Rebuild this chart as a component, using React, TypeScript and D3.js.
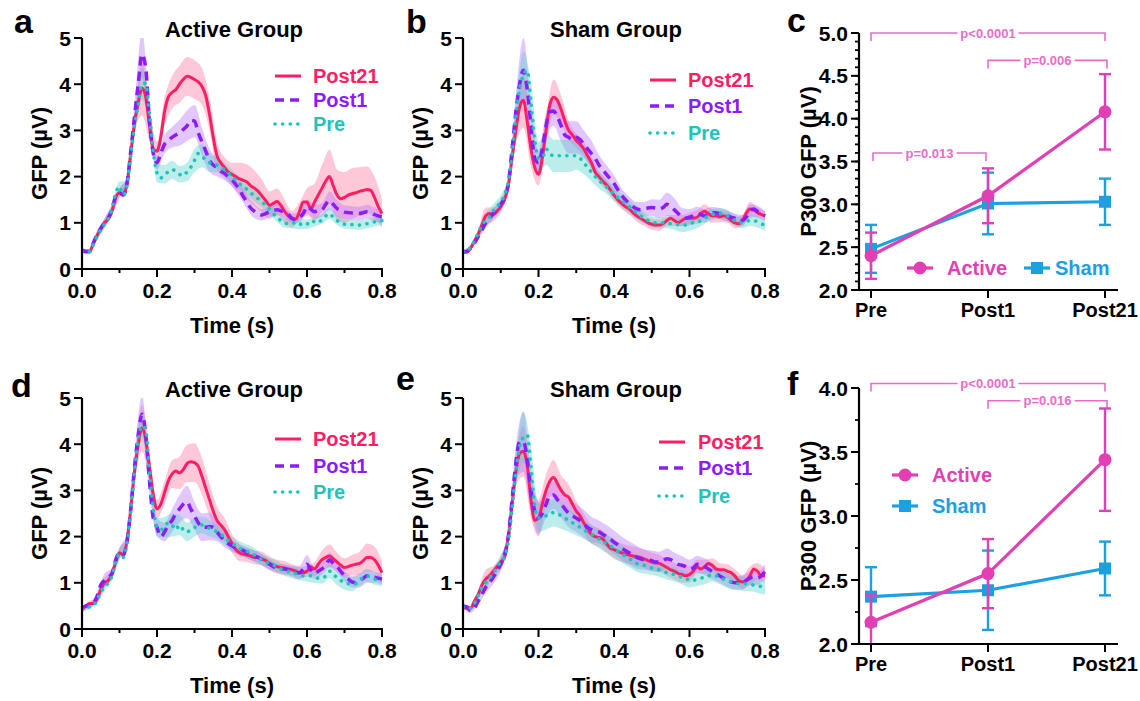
import React from "react";
import * as d3 from "d3";

const FONT = "'Liberation Sans', Arial, Helvetica, sans-serif";

// sample grids (s)
const TIME = d3.range(81).map((i) => i / 100);
const BAND_TIME = d3.range(41).map((i) => i / 50);

const SERIES = ["Post21", "Post1", "Pre"];
const SERIES_COLORS = ["#ff1e64", "#8c1cff", "#1cc4bc"];
const BAND_COLORS = ["#ff6f9c", "#b46cff", "#4fd0c8"];

// ---------- Panel a: Active group ----------
const A_POST21 = [
  0.40, 0.38, 0.38, 0.55, 0.72, 0.88, 1.00, 1.08, 1.25, 1.55,
  1.65, 1.60, 1.85, 2.50, 3.15, 3.60, 3.92, 3.72, 3.10, 2.60,
  2.55, 2.85, 3.40, 3.72, 3.82, 3.88, 4.00, 4.10, 4.17, 4.15,
  4.10, 4.05, 3.95, 3.75, 3.35, 2.85, 2.45, 2.30, 2.20, 2.10,
  2.05, 2.00, 1.95, 1.92, 1.88, 1.80, 1.75, 1.68, 1.58, 1.48,
  1.38, 1.42, 1.46, 1.38, 1.25, 1.15, 1.08, 1.08, 1.25, 1.45,
  1.45, 1.30, 1.45, 1.60, 1.75, 1.90, 2.00, 1.80, 1.60, 1.52,
  1.55, 1.60, 1.63, 1.65, 1.68, 1.70, 1.72, 1.70, 1.55, 1.35,
  1.20,
];
const A_POST1 = [
  0.40, 0.38, 0.38, 0.56, 0.74, 0.88, 1.00, 1.10, 1.30, 1.58,
  1.65, 1.60, 1.85, 2.55, 3.30, 4.00, 4.65, 4.35, 3.20, 2.50,
  2.30, 2.50, 2.70, 2.78, 2.85, 2.90, 2.95, 3.02, 3.10, 3.22,
  3.20, 2.95, 2.75, 2.55, 2.35, 2.25, 2.20, 2.12, 2.07, 2.00,
  1.93, 1.83, 1.72, 1.57, 1.45, 1.32, 1.25, 1.20, 1.17, 1.20,
  1.24, 1.27, 1.28, 1.26, 1.22, 1.18, 1.10, 1.06, 1.12, 1.20,
  1.35, 1.30, 1.24, 1.26, 1.28, 1.40, 1.48, 1.40, 1.31, 1.27,
  1.23, 1.22, 1.21, 1.20, 1.20, 1.22, 1.24, 1.22, 1.18, 1.15,
  1.13,
];
const A_PRE = [
  0.38, 0.36, 0.38, 0.52, 0.70, 0.85, 0.97, 1.08, 1.30, 1.65,
  1.78, 1.60, 1.80, 2.45, 3.10, 3.55, 4.00, 4.02, 3.35, 2.55,
  2.08, 1.97, 2.05, 2.10, 2.15, 2.12, 2.05, 2.02, 2.10, 2.20,
  2.35, 2.50, 2.45, 2.35, 2.30, 2.28, 2.25, 2.20, 2.15, 2.08,
  2.00, 1.93, 1.85, 1.78, 1.72, 1.65, 1.58, 1.52, 1.45, 1.38,
  1.30, 1.20, 1.12, 1.05, 1.00, 0.98, 0.98, 1.02, 0.98, 0.95,
  0.97, 1.05, 1.02, 1.00, 1.08, 1.15, 1.20, 1.12, 1.05, 1.00,
  0.97, 0.95, 0.96, 0.95, 0.95, 0.97, 0.98, 1.00, 1.02, 1.04,
  1.05,
];
const A_POST21_SEM = [
  0.05, 0.05, 0.08, 0.10, 0.10, 0.10, 0.12, 0.20, 0.60, 0.35,
  0.20, 0.30, 0.35, 0.40, 0.42, 0.42, 0.40, 0.35, 0.30, 0.22,
  0.25, 0.35, 0.38, 0.38, 0.35, 0.30, 0.28, 0.25, 0.18, 0.20,
  0.30, 0.40, 0.50, 0.58, 0.55, 0.55, 0.55, 0.52, 0.50, 0.45,
  0.30,
];
const A_POST1_SEM = [
  0.05, 0.05, 0.08, 0.10, 0.10, 0.10, 0.12, 0.25, 0.50, 0.30,
  0.15, 0.20, 0.22, 0.28, 0.33, 0.35, 0.30, 0.25, 0.20, 0.15,
  0.15, 0.15, 0.15, 0.15, 0.12, 0.12, 0.12, 0.12, 0.10, 0.12,
  0.15, 0.15, 0.15, 0.20, 0.18, 0.15, 0.15, 0.15, 0.15, 0.15,
  0.15,
];
const A_PRE_SEM = [
  0.05, 0.05, 0.08, 0.08, 0.10, 0.12, 0.10, 0.20, 0.35, 0.25,
  0.20, 0.20, 0.20, 0.18, 0.20, 0.25, 0.25, 0.20, 0.15, 0.15,
  0.15, 0.12, 0.12, 0.12, 0.12, 0.12, 0.10, 0.10, 0.10, 0.12,
  0.10, 0.10, 0.10, 0.12, 0.10, 0.10, 0.10, 0.10, 0.10, 0.10,
  0.10,
];

// ---------- Panel b: Sham group ----------
const B_POST21 = [
  0.37, 0.37, 0.45, 0.60, 0.75, 0.95, 1.15, 1.20, 1.18, 1.25,
  1.35, 1.50, 1.80, 2.40, 3.00, 3.50, 3.65, 3.20, 2.60, 2.20,
  2.05, 2.40, 3.00, 3.55, 3.72, 3.65, 3.45, 3.20, 3.00, 2.90,
  2.78, 2.70, 2.60, 2.45, 2.30, 2.10, 2.00, 1.90, 1.82, 1.72,
  1.60, 1.50, 1.42, 1.35, 1.30, 1.22, 1.15, 1.10, 1.05, 1.00,
  0.97, 0.95, 0.95, 0.98, 1.05, 1.10, 1.05, 1.00, 1.05, 1.10,
  1.10, 1.10, 1.12, 1.20, 1.25, 1.20, 1.15, 1.15, 1.13, 1.15,
  1.12, 1.05, 1.00, 0.98, 1.05, 1.20, 1.30, 1.28, 1.22, 1.18,
  1.15,
];
const B_POST1 = [
  0.37, 0.38, 0.45, 0.55, 0.70, 0.85, 1.00, 1.10, 1.20, 1.30,
  1.40, 1.55, 1.85, 2.60, 3.40, 4.00, 4.30, 3.90, 3.10, 2.40,
  2.30, 2.60, 3.10, 3.40, 3.42, 3.30, 3.10, 2.90, 2.85, 2.80,
  2.85, 2.80, 2.70, 2.60, 2.50, 2.40, 2.25, 2.15, 2.05, 1.95,
  1.85, 1.72, 1.60, 1.50, 1.42, 1.35, 1.30, 1.28, 1.30, 1.32,
  1.33, 1.32, 1.30, 1.33, 1.40, 1.35, 1.28, 1.20, 1.12, 1.10,
  1.12, 1.15, 1.20, 1.18, 1.15, 1.20, 1.22, 1.22, 1.20, 1.20,
  1.15, 1.12, 1.10, 1.05, 1.05, 1.12, 1.25, 1.30, 1.25, 1.20,
  1.15,
];
const B_PRE = [
  0.37, 0.38, 0.47, 0.60, 0.78, 0.95, 1.05, 1.12, 1.25, 1.35,
  1.45, 1.60, 1.90, 2.50, 3.30, 3.90, 4.20, 4.30, 3.60, 2.80,
  2.40, 2.40, 2.60, 2.50, 2.45, 2.45, 2.45, 2.45, 2.45, 2.45,
  2.45, 2.40, 2.30, 2.20, 2.10, 2.00, 1.92, 1.85, 1.78, 1.70,
  1.62, 1.55, 1.48, 1.42, 1.35, 1.28, 1.22, 1.15, 1.10, 1.05,
  1.02, 1.00, 1.00, 1.00, 1.00, 0.98, 0.97, 0.96, 0.95, 0.95,
  0.98, 1.00, 1.00, 1.05, 1.10, 1.15, 1.18, 1.20, 1.20, 1.18,
  1.15, 1.10, 1.05, 1.00, 1.00, 1.02, 1.05, 1.05, 1.02, 0.98,
  0.95,
];
const B_POST21_SEM = [
  0.05, 0.05, 0.08, 0.18, 0.15, 0.12, 0.12, 0.30, 0.60, 0.40,
  0.25, 0.30, 0.38, 0.30, 0.20, 0.15, 0.15, 0.15, 0.12, 0.12,
  0.12, 0.12, 0.12, 0.12, 0.12, 0.12, 0.12, 0.12, 0.12, 0.12,
  0.12, 0.15, 0.15, 0.15, 0.12, 0.12, 0.12, 0.12, 0.15, 0.12,
  0.10,
];
const B_POST1_SEM = [
  0.05, 0.05, 0.08, 0.12, 0.12, 0.12, 0.12, 0.35, 0.70, 0.45,
  0.25, 0.30, 0.32, 0.35, 0.35, 0.35, 0.30, 0.28, 0.22, 0.20,
  0.18, 0.15, 0.15, 0.15, 0.15, 0.18, 0.20, 0.25, 0.25, 0.20,
  0.18, 0.15, 0.15, 0.12, 0.12, 0.12, 0.10, 0.12, 0.15, 0.12,
  0.10,
];
const B_PRE_SEM = [
  0.05, 0.05, 0.08, 0.15, 0.15, 0.15, 0.12, 0.30, 0.50, 0.45,
  0.35, 0.35, 0.35, 0.35, 0.35, 0.30, 0.25, 0.20, 0.18, 0.15,
  0.15, 0.15, 0.15, 0.15, 0.12, 0.12, 0.12, 0.12, 0.12, 0.15,
  0.15, 0.12, 0.12, 0.12, 0.12, 0.12, 0.12, 0.12, 0.12, 0.12,
  0.12,
];

// ---------- Panel d: Active group ----------
const D_POST21 = [
  0.42, 0.50, 0.55, 0.55, 0.65, 0.85, 1.00, 1.05, 1.20, 1.45,
  1.65, 1.60, 1.90, 2.60, 3.40, 4.00, 4.35, 4.10, 3.50, 2.90,
  2.60, 2.70, 2.95, 3.20, 3.35, 3.42, 3.38, 3.45, 3.58, 3.62,
  3.60, 3.52, 3.30, 3.05, 2.80, 2.55, 2.35, 2.25, 2.15, 2.00,
  1.85, 1.72, 1.65, 1.62, 1.60, 1.58, 1.55, 1.55, 1.52, 1.48,
  1.42, 1.38, 1.35, 1.33, 1.32, 1.30, 1.28, 1.25, 1.22, 1.22,
  1.25, 1.35, 1.30, 1.40, 1.50, 1.55, 1.58, 1.52, 1.45, 1.38,
  1.33, 1.35, 1.38, 1.40, 1.42, 1.48, 1.55, 1.55, 1.50, 1.38,
  1.22,
];
const D_POST1 = [
  0.45, 0.50, 0.50, 0.55, 0.70, 0.95, 1.05, 1.12, 1.20, 1.50,
  1.65, 1.60, 1.90, 2.60, 3.50, 4.20, 4.65, 4.20, 3.20, 2.40,
  2.20, 2.00, 2.10, 2.25, 2.35, 2.50, 2.60, 2.70, 2.75, 2.60,
  2.45, 2.30, 2.20, 2.20, 2.22, 2.20, 2.10, 2.00, 1.92, 1.85,
  1.80, 1.75, 1.72, 1.70, 1.65, 1.60, 1.58, 1.55, 1.50, 1.45,
  1.40, 1.35, 1.32, 1.30, 1.30, 1.28, 1.25, 1.22, 1.22, 1.30,
  1.40, 1.28, 1.20, 1.25, 1.30, 1.38, 1.50, 1.42, 1.35, 1.25,
  1.15, 1.08, 1.02, 1.00, 1.05, 1.10, 1.15, 1.15, 1.12, 1.10,
  1.08,
];
const D_PRE = [
  0.42, 0.45, 0.48, 0.50, 0.62, 0.80, 0.90, 1.00, 1.15, 1.45,
  1.62, 1.55, 1.85, 2.55, 3.40, 4.10, 4.40, 4.30, 3.40, 2.60,
  2.20, 2.15, 2.20, 2.30, 2.25, 2.15, 2.25, 2.15, 2.10, 2.15,
  2.20, 2.20, 2.25, 2.22, 2.18, 2.15, 2.10, 2.05, 1.98, 1.92,
  1.85, 1.80, 1.75, 1.70, 1.68, 1.65, 1.60, 1.55, 1.50, 1.45,
  1.42, 1.38, 1.35, 1.30, 1.27, 1.25, 1.22, 1.20, 1.18, 1.15,
  1.15, 1.15, 1.12, 1.10, 1.10, 1.15, 1.25, 1.20, 1.10, 1.05,
  1.00, 0.98, 0.97, 0.98, 1.05, 1.12, 1.15, 1.12, 1.08, 1.05,
  1.05,
];
const D_POST21_SEM = [
  0.05, 0.05, 0.08, 0.10, 0.10, 0.10, 0.12, 0.25, 0.50, 0.35,
  0.20, 0.25, 0.30, 0.35, 0.40, 0.42, 0.40, 0.35, 0.30, 0.25,
  0.20, 0.18, 0.15, 0.15, 0.15, 0.15, 0.15, 0.15, 0.12, 0.12,
  0.12, 0.15, 0.20, 0.25, 0.20, 0.20, 0.22, 0.25, 0.30, 0.28,
  0.25,
];
const D_POST1_SEM = [
  0.05, 0.05, 0.10, 0.15, 0.12, 0.12, 0.15, 0.30, 0.40, 0.30,
  0.20, 0.20, 0.25, 0.30, 0.35, 0.30, 0.30, 0.30, 0.20, 0.15,
  0.12, 0.12, 0.12, 0.12, 0.12, 0.12, 0.10, 0.10, 0.12, 0.15,
  0.20, 0.12, 0.12, 0.15, 0.12, 0.12, 0.12, 0.15, 0.15, 0.12,
  0.12,
];
const D_PRE_SEM = [
  0.05, 0.05, 0.08, 0.08, 0.10, 0.12, 0.10, 0.20, 0.30, 0.25,
  0.20, 0.22, 0.25, 0.22, 0.20, 0.20, 0.18, 0.18, 0.15, 0.15,
  0.15, 0.15, 0.15, 0.15, 0.12, 0.12, 0.12, 0.12, 0.12, 0.12,
  0.12, 0.12, 0.12, 0.15, 0.15, 0.15, 0.15, 0.12, 0.12, 0.12,
  0.12,
];

// ---------- Panel e: Sham group ----------
const E_POST21 = [
  0.48, 0.45, 0.45, 0.60, 0.75, 0.95, 1.08, 1.15, 1.25, 1.35,
  1.45, 1.55, 2.00, 2.70, 3.40, 3.80, 3.85, 3.55, 2.80, 2.35,
  2.40, 2.70, 3.00, 3.20, 3.28, 3.15, 3.00, 2.90, 2.85, 2.70,
  2.55, 2.45, 2.30, 2.15, 2.05, 2.00, 1.98, 1.95, 1.85, 1.75,
  1.72, 1.68, 1.65, 1.62, 1.60, 1.58, 1.57, 1.55, 1.52, 1.48,
  1.45, 1.43, 1.42, 1.38, 1.33, 1.28, 1.25, 1.20, 1.18, 1.15,
  1.18, 1.25, 1.35, 1.30, 1.35, 1.42, 1.38, 1.30, 1.28, 1.28,
  1.25, 1.22, 1.15, 1.05, 1.02, 1.05, 1.15, 1.30, 1.25, 1.15,
  1.15,
];
const E_POST1 = [
  0.50, 0.48, 0.40, 0.45, 0.60, 0.75, 0.90, 1.00, 1.12, 1.25,
  1.40, 1.60, 2.00, 2.80, 3.60, 4.05, 4.05, 3.70, 3.00, 2.55,
  2.40, 2.50, 2.70, 2.88, 2.90, 2.80, 2.70, 2.60, 2.50, 2.45,
  2.40, 2.35, 2.28, 2.20, 2.15, 2.12, 2.10, 2.05, 2.00, 1.95,
  1.88, 1.82, 1.75, 1.70, 1.65, 1.60, 1.55, 1.52, 1.50, 1.50,
  1.48, 1.45, 1.45, 1.48, 1.52, 1.50, 1.45, 1.40, 1.38, 1.35,
  1.30, 1.32, 1.40, 1.38, 1.35, 1.30, 1.25, 1.20, 1.15, 1.10,
  1.05, 1.02, 1.00, 1.00, 1.00, 1.05, 1.10, 1.12, 1.10, 1.15,
  1.25,
];
const E_PRE = [
  0.48, 0.45, 0.45, 0.55, 0.72, 0.90, 1.00, 1.10, 1.20, 1.35,
  1.45, 1.55, 1.90, 2.60, 3.40, 3.95, 4.15, 4.20, 3.50, 2.65,
  2.40, 2.40, 2.45, 2.50, 2.52, 2.50, 2.45, 2.40, 2.35, 2.30,
  2.25, 2.20, 2.15, 2.10, 2.05, 2.00, 1.95, 1.90, 1.85, 1.80,
  1.75, 1.68, 1.62, 1.58, 1.52, 1.48, 1.42, 1.40, 1.38, 1.35,
  1.32, 1.30, 1.28, 1.25, 1.22, 1.20, 1.18, 1.15, 1.12, 1.10,
  1.05, 1.05, 1.08, 1.10, 1.12, 1.15, 1.18, 1.15, 1.12, 1.08,
  1.05, 1.02, 1.00, 0.98, 0.98, 0.98, 0.97, 0.95, 0.93, 0.92,
  0.90,
];
const E_POST21_SEM = [
  0.05, 0.05, 0.08, 0.20, 0.12, 0.12, 0.15, 0.30, 0.55, 0.40,
  0.40, 0.35, 0.38, 0.32, 0.28, 0.22, 0.20, 0.20, 0.20, 0.20,
  0.20, 0.20, 0.20, 0.20, 0.20, 0.20, 0.18, 0.18, 0.18, 0.18,
  0.18, 0.15, 0.15, 0.15, 0.15, 0.15, 0.15, 0.15, 0.20, 0.18,
  0.15,
];
const E_POST1_SEM = [
  0.05, 0.05, 0.08, 0.12, 0.15, 0.15, 0.15, 0.35, 0.65, 0.45,
  0.35, 0.30, 0.30, 0.30, 0.30, 0.30, 0.30, 0.28, 0.25, 0.25,
  0.25, 0.25, 0.25, 0.25, 0.22, 0.22, 0.22, 0.22, 0.20, 0.20,
  0.20, 0.18, 0.18, 0.18, 0.15, 0.15, 0.15, 0.15, 0.15, 0.15,
  0.15,
];
const E_PRE_SEM = [
  0.05, 0.05, 0.08, 0.12, 0.12, 0.15, 0.12, 0.30, 0.55, 0.45,
  0.30, 0.30, 0.30, 0.28, 0.25, 0.22, 0.20, 0.20, 0.20, 0.20,
  0.20, 0.18, 0.18, 0.18, 0.18, 0.15, 0.15, 0.15, 0.15, 0.15,
  0.15, 0.15, 0.15, 0.15, 0.15, 0.15, 0.15, 0.15, 0.15, 0.15,
  0.15,
];

// ---------- Panels c and f: P300 GFP ----------
const CATS = ["Pre", "Post1", "Post21"];
const GROUPS = ["Active", "Sham"];
const GROUP_COLORS = ["#e23fb4", "#1ba0e2"];

const C_ACTIVE = [2.40, 3.10, 4.08];
const C_ACTIVE_ERR = [0.27, 0.32, 0.44];
const C_SHAM = [2.48, 3.01, 3.03];
const C_SHAM_ERR = [0.28, 0.36, 0.27];
const C_BRACKETS: [string, string, number, string][] = [
  ["Pre", "Post21", 5.0, "p<0.0001"],
  ["Post1", "Post21", 4.68, "p=0.006"],
  ["Pre", "Post1", 3.6, "p=0.013"],
];

const F_ACTIVE = [2.17, 2.55, 3.44];
const F_ACTIVE_ERR = [0.21, 0.27, 0.40];
const F_SHAM = [2.37, 2.42, 2.59];
const F_SHAM_ERR = [0.23, 0.31, 0.21];
const F_BRACKETS: [string, string, number, string][] = [
  ["Pre", "Post21", 4.035, "p<0.0001"],
  ["Post1", "Post21", 3.9, "p=0.016"],
];

const X_TICK_LABELS = ["0.0", "0.2", "0.4", "0.6", "0.8"];

type GfpCfg = {
  id: string;
  letter: string;
  letterX: number;
  letterY: number;
  left: number;
  right: number;
  top: number;
  bottom: number;
  title: string;
  means: number[][];
  sems: number[][];
  legendX: number;
  legendTextX: number;
  legendY: number[];
};

const GFP_PANELS: GfpCfg[] = [
  {
    id: "a", letter: "a", letterX: 14, letterY: 33,
    left: 82, right: 382, top: 38, bottom: 269, title: "Active Group",
    means: [A_POST21, A_POST1, A_PRE], sems: [A_POST21_SEM, A_POST1_SEM, A_PRE_SEM],
    legendX: 275, legendTextX: 313, legendY: [76, 100, 124],
  },
  {
    id: "b", letter: "b", letterX: 406, letterY: 33,
    left: 463, right: 765, top: 38, bottom: 269, title: "Sham Group",
    means: [B_POST21, B_POST1, B_PRE], sems: [B_POST21_SEM, B_POST1_SEM, B_PRE_SEM],
    legendX: 650, legendTextX: 688, legendY: [80, 106, 133],
  },
  {
    id: "d", letter: "d", letterX: 11, letterY: 397,
    left: 82, right: 382, top: 398, bottom: 629, title: "Active Group",
    means: [D_POST21, D_POST1, D_PRE], sems: [D_POST21_SEM, D_POST1_SEM, D_PRE_SEM],
    legendX: 275, legendTextX: 313, legendY: [439, 466, 492],
  },
  {
    id: "e", letter: "e", letterX: 396, letterY: 390,
    left: 463, right: 765, top: 398, bottom: 629, title: "Sham Group",
    means: [E_POST21, E_POST1, E_PRE], sems: [E_POST21_SEM, E_POST1_SEM, E_PRE_SEM],
    legendX: 659, legendTextX: 698, legendY: [442, 468, 496],
  },
];

const DASH = ["none", "9 6", "0.1 7.5"];
const WIDTH = [3, 3.5, 3.6];
const CAP = ["butt", "butt", "round"];

function GfpPanel({ cfg }: { cfg: GfpCfg }) {
  const x = d3.scaleLinear().domain([0, 0.8]).range([cfg.left, cfg.right]);
  const y = d3.scaleLinear().domain([0, 5]).range([cfg.bottom, cfg.top]);
  const line = d3
    .line<number>()
    .x((_, i) => x(TIME[i]))
    .y((d) => y(d))
    .curve(d3.curveMonotoneX);
  const area = (mean: number[], sem: number[]) =>
    d3
      .area<number>()
      .x((_, i) => x(BAND_TIME[i]))
      .y0((s, i) => y(mean[i * 2] - s))
      .y1((s, i) => y(mean[i * 2] + s))
      .curve(d3.curveMonotoneX)(sem) || "";
  const xt = x.ticks(8);
  const yt = y.ticks(5);
  const clipId = "clip-" + cfg.id;
  const cx = (cfg.left + cfg.right) / 2;
  const cy = (cfg.top + cfg.bottom) / 2;
  return (
    <g>
      <defs>
        <clipPath id={clipId}>
          <rect x={cfg.left} y={cfg.top} width={cfg.right - cfg.left + 2} height={cfg.bottom - cfg.top} />
        </clipPath>
      </defs>
      <g clipPath={`url(#${clipId})`}>
        {cfg.means.map((m, k) => (
          <path key={"b" + k} d={area(m, cfg.sems[k])} fill={BAND_COLORS[k]} fillOpacity={0.38} stroke="none" />
        ))}
        {cfg.means.map((m, k) => (
          <path
            key={"l" + k}
            d={line(m) || ""}
            fill="none"
            stroke={SERIES_COLORS[k]}
            strokeWidth={WIDTH[k]}
            strokeDasharray={DASH[k]}
            strokeLinecap={CAP[k] as any}
            strokeLinejoin="round"
          />
        ))}
      </g>
      {/* axes */}
      <line x1={cfg.left} x2={cfg.left} y1={cfg.top} y2={cfg.bottom} stroke="#000" strokeWidth={2.2} />
      <line x1={cfg.left - 1} x2={cfg.right + 1} y1={cfg.bottom} y2={cfg.bottom} stroke="#000" strokeWidth={2.2} />
      {xt.map((t, i) => {
        const major = i % 2 === 0;
        return (
          <g key={"xt" + i}>
            <line x1={x(t)} x2={x(t)} y1={cfg.bottom} y2={cfg.bottom + (major ? 8 : 4)} stroke="#000" strokeWidth={2} />
            {major && (
              <text x={x(t)} y={cfg.bottom + 29} textAnchor="middle" fontSize={21} fontWeight="bold">
                {X_TICK_LABELS[i / 2]}
              </text>
            )}
          </g>
        );
      })}
      {yt.map((v) => (
        <g key={"yt" + v}>
          <line x1={cfg.left - 8} x2={cfg.left} y1={y(v)} y2={y(v)} stroke="#000" strokeWidth={2} />
          <text x={cfg.left - 11} y={y(v)} dy="0.36em" textAnchor="end" fontSize={21} fontWeight="bold">
            {String(v)}
          </text>
        </g>
      ))}
      <text x={cx} y={cfg.bottom + 64} textAnchor="middle" fontSize={22} fontWeight="bold">
        Time (s)
      </text>
      <text
        transform={`translate(${cfg.left - 43},${cy}) rotate(-90)`}
        dy="0.36em"
        textAnchor="middle"
        fontSize={22}
        fontWeight="bold"
      >
        GFP (µV)
      </text>
      <text x={cx + 2} y={cfg.top - 1} textAnchor="middle" fontSize={22} fontWeight="bold">
        {cfg.title}
      </text>
      <text x={cfg.letterX} y={cfg.letterY} fontSize={34} fontWeight="bold">
        {cfg.letter}
      </text>
      {SERIES.map((s, k) => (
        <g key={"lg" + k}>
          <line
            x1={cfg.legendX}
            x2={cfg.legendX + 26}
            y1={cfg.legendY[k]}
            y2={cfg.legendY[k]}
            stroke={SERIES_COLORS[k]}
            strokeWidth={WIDTH[k]}
            strokeDasharray={DASH[k]}
            strokeLinecap={CAP[k] as any}
          />
          <text x={cfg.legendTextX} y={cfg.legendY[k]} dy="0.36em" fontSize={20} fontWeight="bold" fill={SERIES_COLORS[k]}>
            {s}
          </text>
        </g>
      ))}
    </g>
  );
}

type P300Cfg = {
  letter: string;
  letterX: number;
  letterY: number;
  left: number;
  right: number;
  top: number;
  bottom: number;
  yMin: number;
  yMax: number;
  minorStep: number;
  active: number[];
  activeErr: number[];
  sham: number[];
  shamErr: number[];
  brackets: [string, string, number, string][];
  legend: { x: number; y: number; textX: number }[];
};

const P300_PANELS: P300Cfg[] = [
  {
    letter: "c", letterX: 787, letterY: 32,
    left: 859, right: 1118, top: 33, bottom: 290, yMin: 2, yMax: 5, minorStep: 0.1,
    active: C_ACTIVE, activeErr: C_ACTIVE_ERR, sham: C_SHAM, shamErr: C_SHAM_ERR,
    brackets: C_BRACKETS,
    legend: [
      { x: 907, y: 268, textX: 947 },
      { x: 1024, y: 268, textX: 1055 },
    ],
  },
  {
    letter: "f", letterX: 787, letterY: 395,
    left: 859, right: 1118, top: 388, bottom: 644, yMin: 2, yMax: 4, minorStep: 0.25,
    active: F_ACTIVE, activeErr: F_ACTIVE_ERR, sham: F_SHAM, shamErr: F_SHAM_ERR,
    brackets: F_BRACKETS,
    legend: [
      { x: 892, y: 475, textX: 932 },
      { x: 892, y: 506, textX: 932 },
    ],
  },
];

function P300Panel({ cfg }: { cfg: P300Cfg }) {
  const x = d3.scalePoint<string>().domain(CATS).range([cfg.left + 12, cfg.right - 13]);
  const y = d3.scaleLinear().domain([cfg.yMin, cfg.yMax]).range([cfg.bottom, cfg.top]);
  const major = d3.range(cfg.yMin, cfg.yMax + 0.001, 0.5);
  const minor = d3.range(cfg.yMin, cfg.yMax + 0.001, cfg.minorStep);
  const line = d3
    .line<number>()
    .x((_, i) => x(CATS[i]) as number)
    .y((d) => y(d));
  const groups = [
    { vals: cfg.sham, err: cfg.shamErr, color: GROUP_COLORS[1], shape: "square" },
    { vals: cfg.active, err: cfg.activeErr, color: GROUP_COLORS[0], shape: "circle" },
  ];
  const cy = (cfg.top + cfg.bottom) / 2;
  const bracketColor = "#ea6cc8";
  return (
    <g>
      {/* brackets */}
      {cfg.brackets.map(([a, b, v, label], i) => {
        const x1 = (x(a) as number) + (i === 2 ? 2 : 0);
        const x2 = (x(b) as number) + (i === 2 ? -2 : 0) + (i === 1 && a === "Post1" ? 2 : 0);
        const yy = y(v);
        const mid = (x1 + x2) / 2;
        const w = label.length * 6.6 + 8;
        return (
          <g key={"br" + i}>
            <path
              d={`M${x1},${yy + 8}V${yy}H${mid - w / 2}M${mid + w / 2},${yy}H${x2}V${yy + 8}`}
              fill="none"
              stroke={bracketColor}
              strokeWidth={1.6}
            />
            <text x={mid} y={yy} dy="0.36em" textAnchor="middle" fontSize={13} fontWeight="bold" fill={bracketColor}>
              {label}
            </text>
          </g>
        );
      })}
      {/* data */}
      {groups.map((g, gi) => (
        <g key={"g" + gi}>
          <path d={line(g.vals) || ""} fill="none" stroke={g.color} strokeWidth={3.2} />
          {g.vals.map((v, i) => {
            const px = x(CATS[i]) as number;
            const hi = y(Math.min(cfg.yMax, v + g.err[i]));
            const loV = v - g.err[i];
            const lo = y(Math.max(cfg.yMin, loV));
            return (
              <g key={"e" + i}>
                <line x1={px} x2={px} y1={hi} y2={lo} stroke={g.color} strokeWidth={2.4} />
                <line x1={px - 6} x2={px + 6} y1={hi} y2={hi} stroke={g.color} strokeWidth={2.4} />
                {loV >= cfg.yMin && <line x1={px - 6} x2={px + 6} y1={lo} y2={lo} stroke={g.color} strokeWidth={2.4} />}
                {g.shape === "circle" ? (
                  <circle cx={px} cy={y(v)} r={6.5} fill={g.color} />
                ) : (
                  <rect x={px - 6} y={y(v) - 6} width={12} height={12} fill={g.color} />
                )}
              </g>
            );
          })}
        </g>
      ))}
      {/* axes */}
      <line x1={cfg.left} x2={cfg.left} y1={cfg.top} y2={cfg.bottom} stroke="#000" strokeWidth={2.2} />
      <line x1={cfg.left - 1} x2={cfg.right} y1={cfg.bottom} y2={cfg.bottom} stroke="#000" strokeWidth={2.2} />
      {minor.map((v, i) => (
        <line key={"mi" + i} x1={cfg.left - 4} x2={cfg.left} y1={y(v)} y2={y(v)} stroke="#000" strokeWidth={1.8} />
      ))}
      {major.map((v, i) => (
        <g key={"ma" + i}>
          <line x1={cfg.left - 8} x2={cfg.left} y1={y(v)} y2={y(v)} stroke="#000" strokeWidth={2} />
          <text x={cfg.left - 11} y={y(v)} dy="0.36em" textAnchor="end" fontSize={21} fontWeight="bold">
            {d3.format(".1f")(v)}
          </text>
        </g>
      ))}
      {CATS.map((c) => (
        <g key={"c" + c}>
          <line x1={x(c) as number} x2={x(c) as number} y1={cfg.bottom} y2={cfg.bottom + 8} stroke="#000" strokeWidth={2} />
          <text x={x(c) as number} y={cfg.bottom + 27} textAnchor="middle" fontSize={20} fontWeight="bold">
            {c}
          </text>
        </g>
      ))}
      <text
        transform={`translate(${cfg.left - 51},${cy}) rotate(-90)`}
        dy="0.36em"
        textAnchor="middle"
        fontSize={22}
        fontWeight="bold"
      >
        P300 GFP (µV)
      </text>
      <text x={cfg.letterX} y={cfg.letterY} fontSize={34} fontWeight="bold">
        {cfg.letter}
      </text>
      {GROUPS.map((name, i) => {
        const L = cfg.legend[i];
        const color = GROUP_COLORS[i];
        const mx = L.x + 13;
        return (
          <g key={"lg" + i}>
            <line x1={L.x} x2={L.x + 26} y1={L.y} y2={L.y} stroke={color} strokeWidth={3.2} />
            {i === 0 ? (
              <circle cx={mx} cy={L.y} r={6.5} fill={color} />
            ) : (
              <rect x={mx - 6} y={L.y - 6} width={12} height={12} fill={color} />
            )}
            <text x={L.textX} y={L.y} dy="0.36em" fontSize={20} fontWeight="bold" fill={color}>
              {name}
            </text>
          </g>
        );
      })}
    </g>
  );
}

export default function App() {
  return (
    <svg
      width={1140}
      height={701}
      viewBox="0 0 1140 701"
      style={{ position: "absolute", left: 0, top: 0, background: "#fff" }}
      fontFamily={FONT}
    >
      <rect x={0} y={0} width={1140} height={701} fill="#fff" />
      {GFP_PANELS.map((p) => (
        <GfpPanel key={p.id} cfg={p} />
      ))}
      {P300_PANELS.map((p) => (
        <P300Panel key={p.letter} cfg={p} />
      ))}
    </svg>
  );
}
